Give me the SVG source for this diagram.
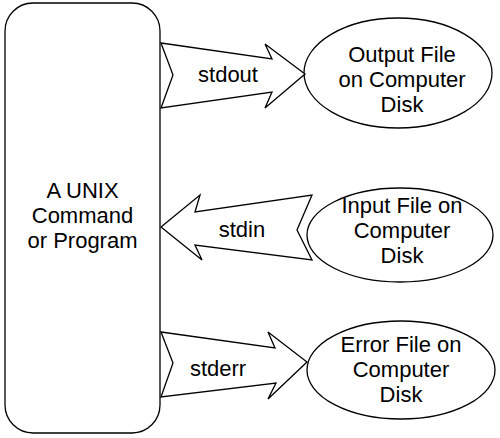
<svg xmlns="http://www.w3.org/2000/svg" width="500" height="438" viewBox="0 0 500 438">
<style>
.s{fill:#fff;stroke:#000;stroke-width:1.3;stroke-linejoin:miter}
text{font-family:"Liberation Sans",Arial,sans-serif;font-size:22px;fill:#000;text-anchor:middle}
</style>
<rect width="500" height="438" fill="#fff"/>
<g id="program">
<rect class="s" x="5" y="3" width="155" height="430" rx="28" ry="28"/>
<text x="82.5" y="198">A UNIX</text>
<text x="82.5" y="223">Command</text>
<text x="82.5" y="248">or Program</text>
</g>
<g id="output-file">
<ellipse class="s" cx="398" cy="73" rx="94" ry="55"/>
<text x="402" y="62">Output File</text>
<text x="402" y="87">on Computer</text>
<text x="402" y="112">Disk</text>
</g>
<g id="input-file">
<ellipse class="s" cx="400" cy="235" rx="93" ry="47"/>
<text x="402" y="213">Input File on</text>
<text x="402" y="238">Computer</text>
<text x="402" y="263">Disk</text>
</g>
<g id="error-file">
<ellipse class="s" cx="401" cy="370" rx="94" ry="49"/>
<text x="401" y="352">Error File on</text>
<text x="401" y="377">Computer</text>
<text x="401" y="402">Disk</text>
</g>
<g id="connectors">
<polygon class="s" points="161,43 272,59 265,44 305,74 265,108 272,92 161,108 173,75"/>
<text x="228" y="82">stdout</text>
<polygon class="s" points="161,227 200,195 195,212 312,195 297,230 312,260 195,245 202,260"/>
<text x="242" y="237">stdin</text>
<polygon class="s" points="161,332 275,348 268,332 307,362 268,399 276,383 161,397 173,363"/>
<text x="218" y="376">stderr</text>
</g>
</svg>
